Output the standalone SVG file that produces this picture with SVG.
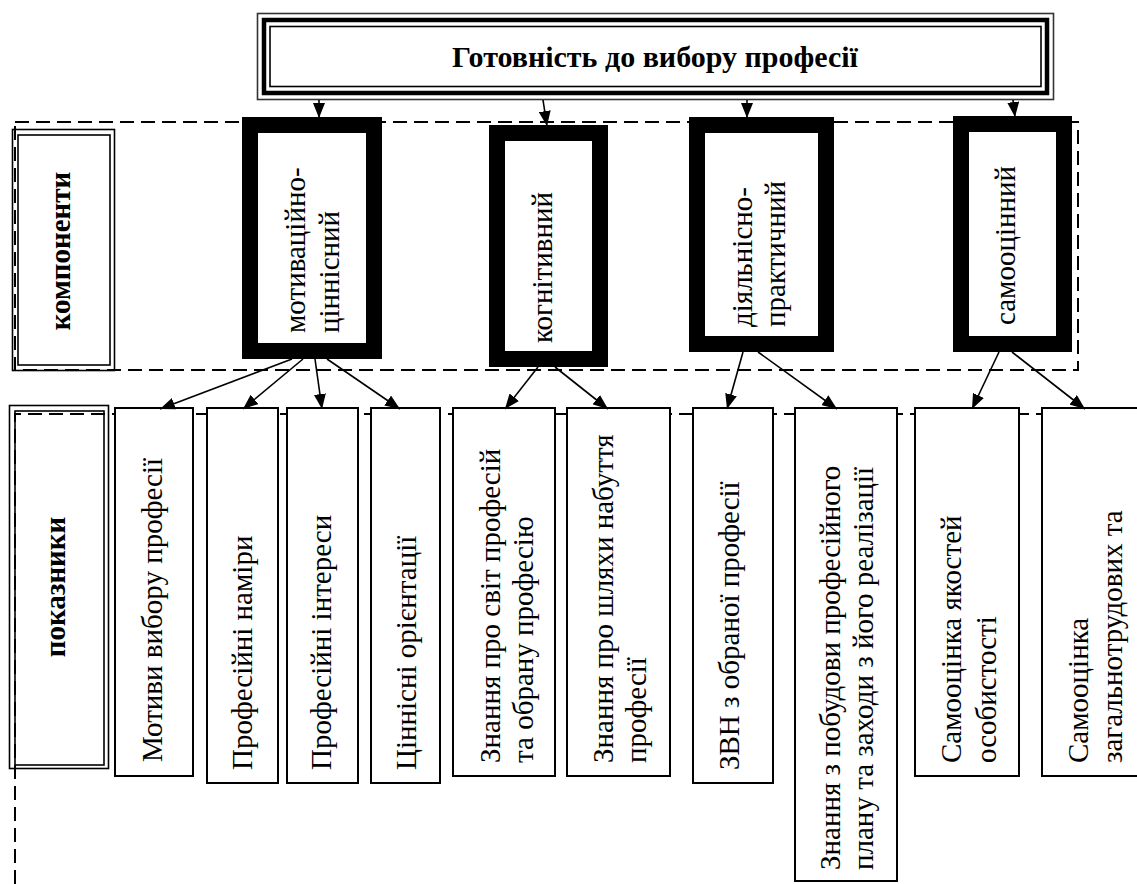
<svg xmlns="http://www.w3.org/2000/svg" width="1137" height="884" viewBox="0 0 1137 884">
<defs>
<style>
text{font-family:'Liberation Serif','Times New Roman','DejaVu Serif',serif;font-size:29px;fill:#000}
.b{font-weight:bold}
.dash{fill:none;stroke:#000;stroke-width:2;stroke-dasharray:14 7}
.thin{fill:#fff;stroke:#000;stroke-width:2}
.dbl{fill:none;stroke:#000;stroke-width:1.6}
.thick{fill:#fff;stroke:#000;stroke-width:16}
.con{fill:none;stroke:#000;stroke-width:1.6;marker-end:url(#ah)}
</style>
<marker id="ah" viewBox="0 0 15 12" refX="15" refY="6" markerWidth="15" markerHeight="12" markerUnits="userSpaceOnUse" orient="auto">
<path d="M0,0 L15,6 L0,12 z" fill="#000"/>
</marker>
</defs>
<rect width="1137" height="884" fill="#fff"/>
<g id="frames">
<rect class="dash" x="15" y="122" width="1063" height="248"/>
<path class="dash" d="M15,884 V414 H1140"/>
</g>
<g id="title">
<rect x="257.5" y="13.5" width="796" height="86" fill="#fff" stroke="#333" stroke-width="1.6"/>
<rect x="264" y="20" width="783" height="73" fill="none" stroke="#000" stroke-width="4.5"/>
<rect x="270" y="26.5" width="771" height="60" fill="none" stroke="#000" stroke-width="1.6"/>
<text class="b" x="655" y="67" text-anchor="middle" style="font-size:30px">Готовність до вибору професії</text>
</g>
<g id="label-komponenty">
<rect class="dbl" x="12.5" y="129.5" width="102" height="241" fill="#fff"/>
<rect class="dbl" x="18" y="135" width="92" height="230"/>
<text class="b" transform="translate(70,251) rotate(-90)" text-anchor="middle">компоненти</text>
</g>
<g id="label-pokaznyky">
<rect class="dbl" x="9.5" y="405.5" width="99" height="363" fill="#fff"/>
<rect class="dbl" x="15" y="411" width="89" height="354"/>
<text class="b" transform="translate(65,587) rotate(-90)" text-anchor="middle">показники</text>
</g>
<g id="c-motiv">
<rect class="thick" x="250" y="125" width="124" height="226"/>
<text transform="translate(305,333) rotate(-90)">мотиваційно-</text>
<text transform="translate(339,333) rotate(-90)">ціннісний</text>
</g>
<g id="c-kogn">
<rect class="thick" x="497" y="133" width="103" height="226"/>
<text transform="translate(552,343) rotate(-90)">когнітивний</text>
</g>
<g id="c-diyal">
<rect class="thick" x="697" y="125" width="129" height="219"/>
<text transform="translate(752,327) rotate(-90)">діяльнісно-</text>
<text transform="translate(785,327) rotate(-90)">практичний</text>
</g>
<g id="c-samo">
<rect class="thick" x="961" y="124" width="103" height="220"/>
<text transform="translate(1015,325) rotate(-90)">самооцінний</text>
</g>
<g id="i1">
<rect class="thin" x="115" y="408" width="78" height="368"/>
<text transform="translate(162,762) rotate(-90)">Мотиви вибору професії</text>
</g>
<g id="i2">
<rect class="thin" x="207" y="408" width="71" height="375"/>
<text transform="translate(252,770) rotate(-90)">Професійні наміри</text>
</g>
<g id="i3">
<rect class="thin" x="287" y="408" width="71" height="375"/>
<text transform="translate(331,770) rotate(-90)">Професійні інтереси</text>
</g>
<g id="i4">
<rect class="thin" x="371" y="408" width="69" height="375"/>
<text transform="translate(416,770) rotate(-90)">Ціннісні орієнтації</text>
</g>
<g id="i5">
<rect class="thin" x="453" y="408" width="102" height="368"/>
<text transform="translate(500,763) rotate(-90)">Знання про світ професій</text>
<text transform="translate(533,763) rotate(-90)">та обрану професію</text>
</g>
<g id="i6">
<rect class="thin" x="567" y="408" width="103" height="368"/>
<text transform="translate(613,763) rotate(-90)">Знання про шляхи набуття</text>
<text transform="translate(646,763) rotate(-90)">професії</text>
</g>
<g id="i7">
<rect class="thin" x="693" y="408" width="80" height="375"/>
<text transform="translate(739,770) rotate(-90)">ЗВН з обраної професії</text>
</g>
<g id="i8">
<rect class="thin" x="795" y="408" width="102" height="473"/>
<text transform="translate(840,870) rotate(-90)">Знання з побудови професійного</text>
<text transform="translate(873,870) rotate(-90)">плану та заходи з його реалізації</text>
</g>
<g id="i9">
<rect class="thin" x="915" y="408" width="104" height="368"/>
<text transform="translate(961,763) rotate(-90)">Самооцінка якостей</text>
<text transform="translate(996,763) rotate(-90)">особистості</text>
</g>
<g id="i10">
<rect class="thin" x="1042" y="408" width="104" height="368"/>
<text transform="translate(1088,763) rotate(-90)">Самооцінка</text>
<text transform="translate(1122,763) rotate(-90)">загальнотрудових та</text>
</g>
<g id="connectors">
<path class="con" d="M319,100 L319,118"/>
<path class="con" d="M543,100 L547,126"/>
<path class="con" d="M747,100 L747,118"/>
<path class="con" d="M1013,100 L1015,117"/>
<path class="con" d="M292,359 L160,409"/>
<path class="con" d="M303,359 L243,409"/>
<path class="con" d="M315,359 L322,409"/>
<path class="con" d="M327,359 L400,409"/>
<path class="con" d="M538,367 L505,409"/>
<path class="con" d="M555,367 L608,409"/>
<path class="con" d="M743,352 L727,409"/>
<path class="con" d="M758,352 L837,409"/>
<path class="con" d="M999,352 L972,409"/>
<path class="con" d="M1012,352 L1085,409"/>
</g>
</svg>
